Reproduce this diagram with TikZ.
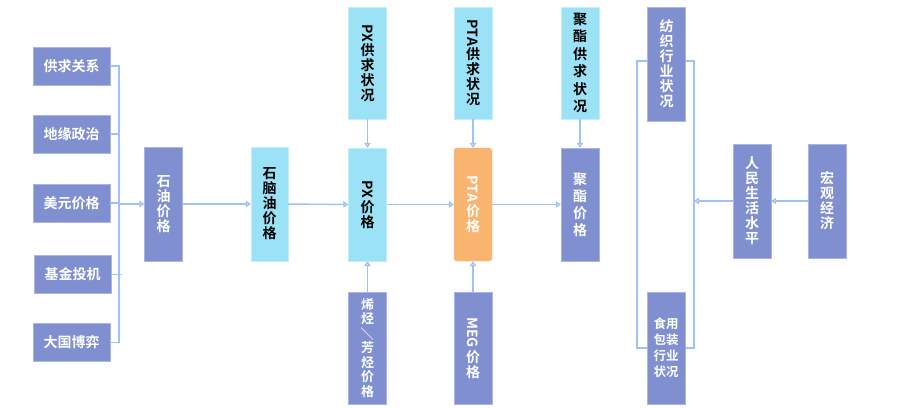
\documentclass[tikz,border=0pt]{standalone}
\usepackage{fontspec}
\usepackage{graphicx}
\usetikzlibrary{arrows.meta}
\newfontfamily\cjk{Noto Sans CJK SC Bold}
\definecolor{boxp}{HTML}{7F8FCF}
\definecolor{boxpb}{HTML}{A9B5E3}
\definecolor{boxc}{HTML}{9BE2F6}
\definecolor{boxcb}{HTML}{C4EEFA}
\definecolor{boxo}{HTML}{F9B46F}
\definecolor{linec}{HTML}{9EC1F7}
\newcommand{\Rot}[1]{\rotatebox[origin=c]{-90}{#1}}
\newcommand{\RotS}[1]{\smash{\rotatebox[origin=c]{-90}{#1}}}
\begin{document}
\begin{tikzpicture}[x=1pt,y=-1pt,
  base/.style={rectangle, inner sep=0pt, align=center, minimum width=38pt, minimum height=114pt,
    font=\cjk\fontsize{14}{15}\selectfont},
  pbox/.style={base, draw=boxpb, fill=boxp, text=white},
  cbox/.style={base, draw=boxcb, fill=boxc, text=black},
  obox/.style={base, draw=boxo, fill=boxo, text=white, rounded corners=3pt},
  hbox/.style={pbox, minimum width=77pt, minimum height=38pt},
  conn/.style={draw=linec, line width=1.4pt},
  arr/.style={conn, -{Triangle[open, length=5pt, width=6.5pt]}}
]
\fill[white] (0,0) rectangle (897,407);
\useasboundingbox (0,0) rectangle (897,407);

% bracket behind the two industry boxes
\coordinate (btl) at (637,61);
\coordinate (bbr) at (694,348);
\draw[conn] (btl) rectangle (bbr);

% left inputs
\node[hbox] (gq) at (71.5,66) {供求关系};
\node[hbox] (dy) at (71.5,134) {地缘政治};
\node[hbox] (my) at (71.5,203) {美元价格};
\node[hbox] (jj) at (72.5,274.5) {基金投机};
\node[hbox] (dg) at (71.5,342.5) {大国博弈};
\coordinate (bus) at (119,0);

% chain
\node[pbox] (sy) at (163.5,204) {石\\油\\价\\格};
\node[cbox, minimum width=37pt] (nn) at (269.5,204) {石\\脑\\油\\价\\格};
\node[cbox, minimum height=112pt] (pxs) at (367.5,63) {\Rot{PX}\\[1pt]供\\求\\状\\况};
\node[cbox, minimum height=113pt] (pxp) at (367.5,204.5) {\Rot{PX}\\[1pt]价\\格};
\node[pbox, minimum height=112pt, font=\cjk\fontsize{13}{14.5}\selectfont] (xt) at (367.5,348) {烯\\烃\\\RotS{／}\\芳\\烃\\价\\格};
\node[cbox, minimum height=112pt] (ptas) at (473,63) {\Rot{PTA}\\[1pt]供\\求\\状\\况};
\node[obox, minimum height=113pt] (ptap) at (473,204.5) {\Rot{PTA}\\[2pt]价\\格};
\node[pbox, minimum height=112pt] (meg) at (473,348) {\Rot{MEG}\\[2pt]价\\格};
\node[cbox, minimum height=112pt, font=\cjk\fontsize{14}{17.5}\selectfont] (jzs) at (580,63) {聚\\酯\\供\\求\\状\\况};
\node[pbox, minimum height=113pt, font=\cjk\fontsize{14}{17}\selectfont] (jzp) at (580,204.5) {聚\\酯\\价\\格};

% right side
\node[pbox] (fz) at (666.5,64) {纺\\织\\行\\业\\状\\况};
\node[pbox, minimum height=112pt, font=\cjk\fontsize{12.5}{16}\selectfont] (sp) at (666,348) {食用\\包装\\行业\\状况};
\node[pbox] (rm) at (752,201) {人\\民\\生\\活\\水\\平};
\node[pbox] (hg) at (827,201) {宏\\观\\经\\济};

% bus
\draw[conn] (gq.east) -| (bus |- dg.east) -- (dg.east);
\draw[conn] (dy.east) -- (dy.east -| bus);
\draw[conn] (my.east) -- (my.east -| bus);
\draw[conn] (jj.east) -- ([xshift=3pt]jj.east -| bus);
\draw[arr] (bus |- sy.west) -- (sy.west);

% chain arrows
\draw[arr] (sy) -- (nn);
\draw[arr] (nn) -- (pxp);
\draw[arr] (pxp) -- (ptap);
\draw[arr] (ptap) -- (jzp);
\draw[arr] (pxs) -- (pxp);
\draw[arr] (xt) -- (pxp);
\draw[arr] (ptas) -- (ptap);
\draw[arr] (meg) -- (ptap);
\draw[arr] (jzs) -- (jzp);

% right arrows
\draw[arr] (hg) -- (rm);
\draw[arr] (rm.west) -- (rm.west -| bbr);
\end{tikzpicture}
\end{document}
